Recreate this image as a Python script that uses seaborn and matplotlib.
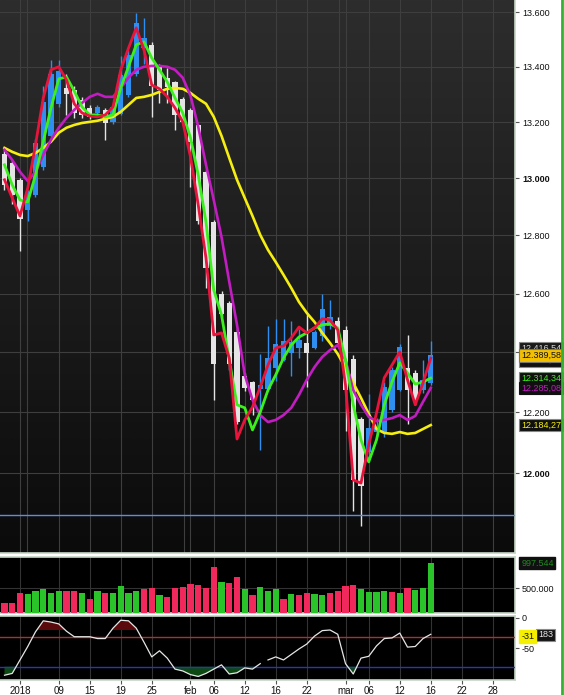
import numpy as np
import pandas as pd
import matplotlib
matplotlib.use("Agg")
import matplotlib.pyplot as plt
from matplotlib.colors import LinearSegmentedColormap
from matplotlib.lines import Line2D
from matplotlib.transforms import blended_transform_factory
import seaborn as sns

# ====================== data ======================
# trading day index, 0 = 2 Jan 2018
days = list(range(-2, 54))

opens = [13087, 13054, 12995, 12889, 12941, 13040, 13150, 13266, 13323, 13316,
         13280, 13251, 13233, 13244, 13201, 13230, 13298, 13374, 13468, 13480,
         13400, 13360, 13345, 13284, 13244, 13190, 13023, 12847, 12600, 12568,
         12470, 12322, 12301, 12276, 12278, 12348, 12375, 12398, 12415, 12432,
         12415, 12456, 12490, 12507, 12476, 12378, 12178, 12069, 12135, 12135,
         12208, 12274, 12348, 12331, 12274, 12297]
highs = [13100, 13065, 13000, 12960, 13140, 13330, 13425, 13425, 13375, 13330,
         13290, 13260, 13262, 13250, 13262, 13440, 13460, 13598, 13578, 13490,
         13410, 13395, 13350, 13290, 13250, 13195, 13030, 12855, 12610, 12575,
         12480, 12330, 12305, 12395, 12490, 12512, 12512, 12505, 12480, 12530,
         12475, 12600, 12578, 12520, 12490, 12390, 12185, 12260, 12180, 12300,
         12350, 12430, 12460, 12340, 12373, 12440]
lows = [12960, 12910, 12745, 12850, 12935, 13030, 13140, 13255, 13226, 13215,
        13215, 13210, 13225, 13137, 13195, 13225, 13290, 13365, 13410, 13220,
        13270, 13270, 13172, 13190, 12970, 12840, 12620, 12240, 12520, 12340,
        12160, 12270, 12192, 12075, 12270, 12305, 12370, 12320, 12380, 12285,
        12410, 12440, 12480, 12425, 12140, 11877, 11830, 12050, 12120, 12120,
        12200, 12270, 12160, 12225, 12265, 12290]
closes = [12975, 12941, 12858, 12952, 13126, 13273, 13375, 13385, 13302, 13233,
          13226, 13219, 13255, 13197, 13255, 13370, 13443, 13560, 13505, 13330,
          13316, 13327, 13226, 13201, 13130, 12850, 12688, 12362, 12530, 12362,
          12168, 12281, 12241, 12290, 12380, 12428, 12438, 12435, 12442, 12398,
          12470, 12547, 12520, 12432, 12274, 11978, 11958, 12149, 12149, 12285,
          12341, 12420, 12274, 12241, 12308, 12390]

ma_red = [12995, 12931, 12868, 12966, 13119, 13287, 13389, 13400, 13352, 13266,
          13233, 13222, 13219, 13226, 13255, 13389, 13468, 13542, 13461, 13334,
          13320, 13291, 13251, 13201, 13076, 12906, 12722, 12459, 12466, 12381,
          12112, 12175, 12218, 12284, 12358, 12415, 12422, 12449, 12486, 12466,
          12483, 12514, 12510, 12476, 12291, 11978, 11968, 12093, 12198, 12315,
          12358, 12402, 12308, 12225, 12298, 12381]
ma_green = [13048, 12977, 12924, 12917, 13012, 13130, 13251, 13356, 13363, 13312,
            13255, 13226, 13226, 13219, 13226, 13323, 13400, 13480, 13491, 13432,
            13389, 13345, 13287, 13233, 13144, 13012, 12847, 12612, 12527, 12375,
            12225, 12215, 12142, 12201, 12274, 12325, 12381, 12425, 12452, 12466,
            12483, 12493, 12497, 12483, 12375, 12225, 12109, 12037, 12109, 12225,
            12301, 12365, 12331, 12294, 12301, 12314]
ma_magenta = [13101, 13065, 13023, 12991, 13023, 13083, 13137, 13180, 13215, 13244,
              13269, 13291, 13302, 13291, 13291, 13323, 13360, 13389, 13400, 13403,
              13403, 13400, 13389, 13360, 13295, 13183, 13048, 12924, 12795, 12640,
              12493, 12325, 12241, 12191, 12168, 12175, 12191, 12215, 12258, 12308,
              12351, 12385, 12408, 12425, 12375, 12274, 12225, 12185, 12171, 12175,
              12181, 12191, 12175, 12188, 12235, 12281]
ma_yellow = [13108, 13094, 13083, 13079, 13090, 13108, 13130, 13162, 13180, 13190,
             13197, 13201, 13205, 13212, 13219, 13237, 13262, 13287, 13291, 13298,
             13309, 13320, 13323, 13320, 13305, 13284, 13266, 13219, 13151, 13072,
             12995, 12931, 12868, 12802, 12750, 12708, 12664, 12619, 12571, 12534,
             12503, 12466, 12432, 12395, 12348, 12298, 12248, 12195, 12145, 12132,
             12129, 12135, 12129, 12132, 12145, 12158]

volume = [193000, 193000, 393000, 373000, 447000, 473000, 393000, 433000, 447000, 447000,
          393000, 273000, 433000, 393000, 393000, 540000, 393000, 447000, 473000, 493000,
          353000, 327000, 493000, 513000, 573000, 553000, 493000, 913000, 627000, 593000,
          713000, 473000, 353000, 513000, 433000, 473000, 273000, 373000, 353000, 393000,
          373000, 353000, 393000, 433000, 540000, 560000, 473000, 413000, 413000, 433000,
          413000, 393000, 493000, 460000, 493000, 997544]
vol_dir = ['down', 'down', 'down', 'up', 'up', 'up', 'up', 'up', 'down', 'down',
           'up', 'down', 'up', 'down', 'up', 'up', 'up', 'up', 'down', 'down',
           'up', 'down', 'down', 'down', 'down', 'down', 'down', 'down', 'up', 'down',
           'down', 'up', 'down', 'up', 'up', 'up', 'down', 'up', 'down', 'down',
           'up', 'up', 'down', 'down', 'down', 'down', 'up', 'up', 'up', 'up',
           'down', 'up', 'down', 'up', 'up', 'up']

# oscillator, two pieces (the line has a break between the pieces)
osc_a = [-94, -91, -69, -47, -23, -5, -7, -10, -22, -31,
         -31, -31, -34, -34, -17, -4, -5, -17, -40, -64,
         -54, -66, -84, -87, -93, -96, -91, -84, -77, -92,
         -90, -82, -84, -75]
osc_b = [-69, -64, -69, -60, -51, -43, -30, -21, -20, -27,
         -75, -92, -66, -63, -46, -34, -33, -25, -48, -47,
         -34, -27]
osc_high, osc_low, osc_now = -20, -80, -31
support = 11865

price_ticks = [13600, 13400, 13200, 13000, 12800, 12600, 12400, 12200, 12000]
price_labels = ['13.600', '13.400', '13.200', '13.000', '12.800', '12.600', '', '12.200', '12.000']
date_ticks = [0, 5, 9, 13, 17, 22, 25, 29, 33, 37, 42, 45, 49, 53, 57, 61]
date_labels = ['2018', '09', '15', '19', '25', 'feb', '06', '12', '16', '22',
               'mar', '06', '12', '16', '22', '28']
month_lines = [0.9, 21.2, 41.2]

# ====================== figure ======================
plt.rcParams['font.family'] = ['Liberation Sans', 'DejaVu Sans']
W, H = 564, 695
fig = plt.figure(figsize=(W / 100, H / 100), dpi=100, facecolor='white')


def box(l, t, r, b):
    return [l / W, 1 - b / H, (r - l) / W, (b - t) / H]


RED, GREEN, MAG, YEL = '#e8143c', '#3cf01e', '#c21cc2', '#f5ee10'
GRID = '#3e3e3e'
xlim = (-2.58, 63.87)

# main panel gradient background
ax_bg = fig.add_axes(box(0, 0, 515, 553), zorder=0)
ax_bg.imshow(np.linspace(0, 1, 256).reshape(-1, 1), aspect='auto',
             cmap=LinearSegmentedColormap.from_list('bg', ['#2d2d2d', '#0b0b0b']),
             extent=[0, 1, 0, 1])
ax_bg.axis('off')

ax = fig.add_axes(box(0, 0, 515, 553), zorder=1)
ax.set_facecolor('none')
ax.set_yscale('log')

df = pd.DataFrame({'day': days, 'open': opens, 'high': highs, 'low': lows, 'close': closes,
                   'red': ma_red, 'green': ma_green, 'mag': ma_magenta, 'yel': ma_yellow})
up = df['close'] >= df['open']
cand_col = np.where(up, '#2f8ff0', '#e4e4e4')
ax.vlines(df['day'], df['low'], df['high'], colors=cand_col, linewidth=1, zorder=2)
ax.bar(df['day'], (df['close'] - df['open']).abs().clip(lower=4),
       bottom=df[['open', 'close']].min(axis=1), width=0.66, color=cand_col,
       linewidth=0, zorder=3)

for col, c, lw in [('yel', YEL, 1.9), ('mag', MAG, 1.9), ('green', GREEN, 2.0), ('red', RED, 2.0)]:
    sns.lineplot(data=df, x='day', y=col, ax=ax, color=c, linewidth=lw,
                 estimator=None, sort=False, zorder=5)

ax.axhline(support, color='#5a8ee0', linewidth=1, zorder=4)
ax.set_xlim(*xlim)
ax.set_ylim(11743, 13645)
ax.set_yticks(price_ticks)
ax.set_yticklabels(price_labels)
ax.yaxis.set_minor_locator(plt.NullLocator())
ax.set_xticks(date_ticks + month_lines)
ax.tick_params(axis='x', length=0, labelbottom=False)
ax.yaxis.tick_right()
ax.tick_params(axis='y', which='both', direction='out', length=3, width=0.8, colors='#555555',
               labelcolor='#111111', labelsize=6.5, pad=2)
for lab in ax.get_yticklabels():
    if lab.get_text() in ('13.000', '12.000'):
        lab.set_fontweight('bold')
ax.grid(True, color=GRID, linewidth=0.8, zorder=0)
ax.set_axisbelow(True)
ax.set_xlabel('')
ax.set_ylabel('')
for s in ax.spines.values():
    s.set_color('#c6d6c6')
    s.set_linewidth(1.2)
ax.spines['left'].set_visible(False)
ax.spines['top'].set_visible(False)

# value labels on the price axis
tr = blended_transform_factory(ax.transAxes, ax.transData)
tags = [(12415, '12.416,54', '#d8d8d8', '#1b1b1b', '#8a8a8a'),
        (12372, '12.363,60', RED, '#111111', '#8a8a8a'),
        (closes[-1], '12.389,58', '#111111', '#f2c000', '#777777'),
        (ma_green[-1], '12.314,34', GREEN, '#101010', '#7a907a'),
        (ma_magenta[-1], '12.285,08', MAG, '#101010', '#101010'),
        (ma_yellow[-1], '12.184,27', YEL, '#101010', '#7a907a')]
for val, txt, fc, bg, ec in tags:
    ax.text(1.012, val, txt, transform=tr, ha='left', va='center', fontsize=6.5,
            color=fc, clip_on=False, zorder=10,
            bbox=dict(boxstyle='square,pad=0.2', fc=bg, ec=ec, lw=0.8))

# ====================== volume panel ======================
axv = fig.add_axes(box(0, 557, 515, 613), zorder=1)
axv.set_facecolor('#000000')
vdf = pd.DataFrame({'day': days, 'volume': volume, 'dir': vol_dir})
sns.barplot(data=vdf, x='day', y='volume', hue='dir', native_scale=True, dodge=False,
            palette={'up': '#2ac42a', 'down': '#f0285c'}, width=0.8, saturation=1,
            errorbar=None, legend=False, linewidth=0, ax=axv, zorder=3)
axv.set_xlim(*xlim)
axv.set_ylim(0, 1.12e6)
axv.set_yticks([500000])
axv.set_yticklabels(['500.000'])
axv.set_xticks(date_ticks)
axv.tick_params(axis='x', length=0, labelbottom=False)
axv.yaxis.tick_right()
axv.tick_params(axis='y', direction='out', length=3, width=0.8, colors='#555555',
                labelcolor='#111111', labelsize=6.5, pad=2)
axv.grid(True, color='#333333', linewidth=0.8)
axv.set_axisbelow(True)
axv.set_xlabel('')
axv.set_ylabel('')
for s in axv.spines.values():
    s.set_color('#c6d6c6')
    s.set_linewidth(1.2)
axv.spines['left'].set_visible(False)
trv = blended_transform_factory(axv.transAxes, axv.transData)
axv.text(1.012, volume[-1], '997.544', transform=trv, ha='left', va='center', fontsize=6.5,
         color='#1e8c1e', clip_on=False, zorder=10,
         bbox=dict(boxstyle='square,pad=0.2', fc='#101010', ec='#101010'))

# ====================== oscillator panel ======================
axo = fig.add_axes(box(0, 616, 515, 680), zorder=1)
axo.set_facecolor('#000000')
odf = pd.DataFrame({'day': days, 'osc': osc_a + osc_b,
                    'piece': ['a'] * len(osc_a) + ['b'] * len(osc_b)})
osc = odf['osc'].to_numpy(dtype=float)
axo.fill_between(odf['day'], osc, osc_high, where=osc > osc_high, interpolate=True,
                 color='#5a0a0c', linewidth=0, zorder=2)
axo.fill_between(odf['day'], osc, osc_low, where=osc < osc_low, interpolate=True,
                 color='#0c4a12', linewidth=0, zorder=2)
axo.axhline(osc_now, color='#a8322e', linewidth=1, zorder=3)
axo.axhline(osc_low, color='#2a34b8', linewidth=1, zorder=3)
sns.lineplot(data=odf, x='day', y='osc', units='piece', estimator=None, sort=False,
             color='#e6e6e6', linewidth=0.9, ax=axo, zorder=4)
axo.set_xlim(*xlim)
axo.set_ylim(-101.8, 2.9)
axo.set_yticks([0, -50])
axo.set_yticklabels(['0', '-50'])
axo.set_xticks(date_ticks)
axo.set_xticklabels(date_labels)
axo.yaxis.tick_right()
axo.tick_params(axis='y', direction='out', length=3, width=0.8, colors='#555555',
                labelcolor='#111111', labelsize=6.5, pad=2)
axo.tick_params(axis='x', direction='out', length=3, width=0.8, colors='#555555',
                labelcolor='#111111', labelsize=7, pad=1.5)
axo.grid(True, axis='x', color='#333333', linewidth=0.8)
axo.set_axisbelow(True)
axo.set_xlabel('')
axo.set_ylabel('')
for s in axo.spines.values():
    s.set_color('#c6d6c6')
    s.set_linewidth(1.2)
axo.spines['left'].set_visible(False)
tro = blended_transform_factory(axo.transAxes, axo.transData)
axo.text(1.012, osc_now, '-31', transform=tro, ha='left', va='center', fontsize=6.5,
         color='#111111', clip_on=False, zorder=10,
         bbox=dict(boxstyle='square,pad=0.2', fc='#f5f000', ec='#f5f000'))
axo.text(1.045, osc_now + 3, '183', transform=tro, ha='left', va='center', fontsize=6.5,
         color='#e8e8e8', clip_on=False, zorder=9,
         bbox=dict(boxstyle='square,pad=0.2', fc='#151515', ec='#8a8a8a', lw=0.8))

# green frame line at the right edge
fig.add_artist(Line2D([561.5 / W, 561.5 / W], [0, 1], color='#2fb52f', linewidth=2))

fig.savefig('out.png', dpi=100, facecolor='white')
